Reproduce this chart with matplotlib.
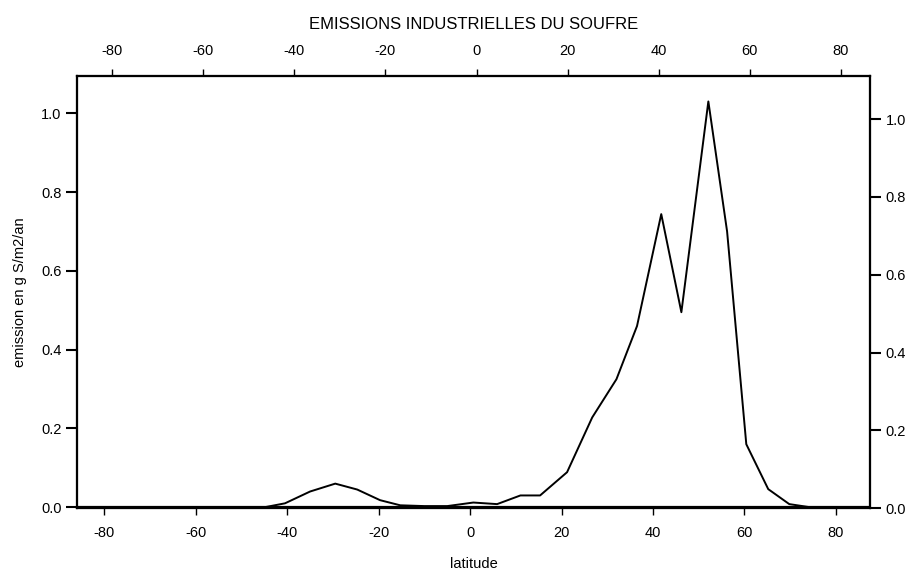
import matplotlib.pyplot as plt

plt.rcParams['font.family'] = ['Liberation Sans', 'DejaVu Sans']

# Data
latitude = [-90, -45, -40.5, -35, -29.5, -24.7, -19.7, -15.3, -10, -5, 0.7, 5.9,
            11, 15.3, 21.2, 26.7, 32, 36.5, 41.8, 46.2, 52.1, 56.2, 60.4, 65.2,
            69.8, 74.4, 90]
emission = [0, 0, 0.01, 0.04, 0.06, 0.045, 0.018, 0.005, 0.003, 0.003, 0.012, 0.008,
            0.03, 0.03, 0.089, 0.228, 0.325, 0.46, 0.744, 0.495, 1.03, 0.70, 0.16, 0.046,
            0.008, 0, 0]

lat_ticks = [-80, -60, -40, -20, 0, 20, 40, 60, 80]
y_ticks = [0.0, 0.2, 0.4, 0.6, 0.8, 1.0]

fig = plt.figure(figsize=(9.16, 5.73), dpi=100)
ax = fig.add_axes([0.084, 0.113, 0.866, 0.754])

ax.plot(latitude, emission, "k-", linewidth=1.4)
ax.axhline(0, color="k", linewidth=1.6)

ax.set_xlim(-86, 87.5)
ax.set_ylim(-0.0025, 1.094)
ax.set_xticks(lat_ticks)
ax.set_xticklabels([str(t) for t in lat_ticks])
ax.set_yticks(y_ticks)
ax.set_yticklabels(["%.1f" % t for t in y_ticks])
ax.tick_params(axis="x", direction="out", length=5, width=1, pad=8, labelsize=10.5)
ax.tick_params(axis="y", direction="out", length=8, width=1.5, pad=3, labelsize=10.5)
ax.set_xlabel("latitude", fontsize=10.5, labelpad=12)
ax.set_ylabel("emission en g S/m2/an", fontsize=10.5, labelpad=10)

# right axis, the scan has it slightly offset
ax_r = ax.twinx()
ax_r.set_ylim(0.005, 1.11)
ax_r.set_yticks(y_ticks)
ax_r.set_yticklabels(["%.1f" % t for t in y_ticks])
ax_r.tick_params(axis="y", direction="out", length=8, width=1.5, pad=3, labelsize=10.5)

# top axis
ax_t = ax.twiny()
ax_t.set_xlim(-87.7, 86.4)
ax_t.set_xticks(lat_ticks)
ax_t.set_xticklabels([str(t) for t in lat_ticks])
ax_t.tick_params(axis="x", direction="out", length=5, width=1, pad=8, labelsize=10.5)
ax_t.set_title("EMISSIONS INDUSTRIELLES DU SOUFRE", fontsize=12, pad=11)

for a in (ax, ax_r, ax_t):
    for s in a.spines.values():
        s.set_linewidth(1.5)

fig.savefig("out.png", dpi=100)
